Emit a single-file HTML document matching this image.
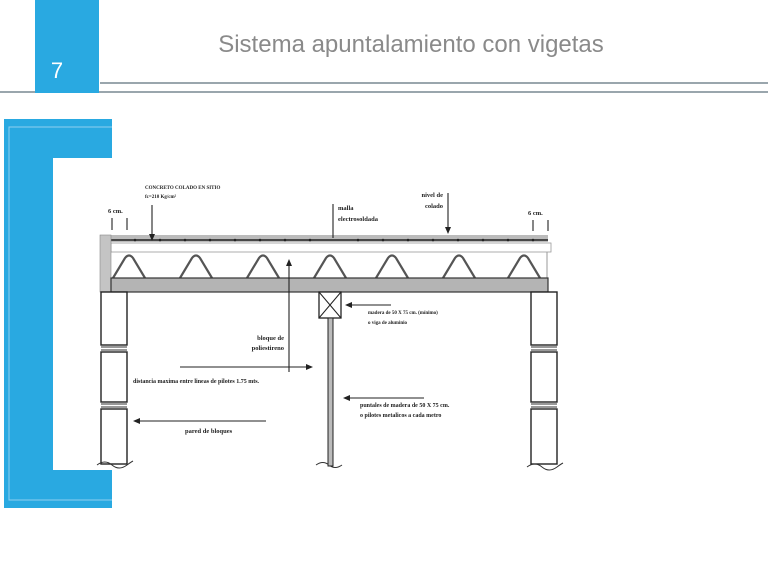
<!DOCTYPE html>
<html><head><meta charset="utf-8"><style>
html,body{margin:0;padding:0;background:#fff;}
body{width:768px;height:561px;position:relative;overflow:hidden;font-family:"Liberation Sans",sans-serif;}
</style></head><body>
<svg width="768" height="561" viewBox="0 0 768 561" xmlns="http://www.w3.org/2000/svg" style="position:absolute;left:0;top:0">
<!-- header -->
<rect x="100" y="82" width="668" height="2" fill="#9aa6ad"/>
<rect x="0" y="91" width="768" height="2" fill="#9aa6ad"/>
<rect x="35" y="0" width="64" height="93" fill="#29a9e1"/>
<text x="57" y="78" font-size="22" fill="#fff" font-family="Liberation Sans, sans-serif" text-anchor="middle">7</text>
<text x="411" y="52" font-size="24" fill="#8a8a8a" font-family="Liberation Sans, sans-serif" text-anchor="middle">Sistema apuntalamiento con vigetas</text>
<!-- bracket -->
<path d="M4 119 H112 V158 H53 V470 H112 V508 H4 Z" fill="#29a9e1"/>
<path d="M9 156 V127 H112 M9 127 V500 H112" stroke="#8fd0f0" stroke-width="1" fill="none"/>
<!-- slab -->
<rect x="100" y="235" width="448" height="7" fill="#bbb"/>
<line x1="100" y1="240" x2="548" y2="240" stroke="#222" stroke-width="1.5"/>
<g fill="#222">
<circle cx="110" cy="240" r="1.3"/><circle cx="135" cy="240" r="1.3"/><circle cx="160" cy="240" r="1.3"/><circle cx="185" cy="240" r="1.3"/><circle cx="210" cy="240" r="1.3"/><circle cx="235" cy="240" r="1.3"/><circle cx="260" cy="240" r="1.3"/><circle cx="285" cy="240" r="1.3"/><circle cx="310" cy="240" r="1.3"/><circle cx="358" cy="240" r="1.3"/><circle cx="383" cy="240" r="1.3"/><circle cx="408" cy="240" r="1.3"/><circle cx="433" cy="240" r="1.3"/><circle cx="458" cy="240" r="1.3"/><circle cx="483" cy="240" r="1.3"/><circle cx="508" cy="240" r="1.3"/><circle cx="533" cy="240" r="1.3"/>
</g>
<rect x="111" y="243" width="440" height="9" fill="#fff" stroke="#999" stroke-width="0.8"/>
<rect x="100" y="235" width="11" height="57" fill="#c4c4c4" stroke="#888" stroke-width="0.6"/>
<line x1="547" y1="252" x2="547" y2="278" stroke="#999" stroke-width="1"/>
<g fill="none" stroke="#555" stroke-width="2.2">
<path d="M113 278 L125 258 Q129 253 133 258 L145 278"/>
<path d="M180 278 L192 258 Q196 253 200 258 L212 278"/>
<path d="M247 278 L259 258 Q263 253 267 258 L279 278"/>
<path d="M314 278 L326 258 Q330 253 334 258 L346 278"/>
<path d="M376 278 L388 258 Q392 253 396 258 L408 278"/>
<path d="M443 278 L455 258 Q459 253 463 258 L475 278"/>
<path d="M508 278 L520 258 Q524 253 528 258 L540 278"/>
</g>
<rect x="111" y="278" width="437" height="14" fill="#b4b4b4" stroke="#333" stroke-width="1.2"/>
<!-- columns -->
<g fill="#fff" stroke="#222" stroke-width="1.4">
<rect x="101" y="292" width="26" height="53"/>
<rect x="101" y="352" width="26" height="50"/>
<rect x="101" y="409" width="26" height="55"/>
<rect x="531" y="292" width="26" height="53"/>
<rect x="531" y="352" width="26" height="50"/>
<rect x="531" y="409" width="26" height="55"/>
</g>
<g stroke="#333" stroke-width="1" fill="none">
<path d="M101 347 h26 M101 350 h26 M101 404 h26 M101 407 h26 M531 347 h26 M531 350 h26 M531 404 h26 M531 407 h26"/>
<path d="M97 465 q8 -6 15 0 t15 0 q4 -3 6 -4"/>
<path d="M527 467 q8 -6 15 0 t15 0 q4 -3 6 -4"/>
<path d="M316 465 q7 -5 13 0 t13 0"/>
</g>
<!-- post -->
<rect x="319" y="292" width="22" height="26" fill="#fff" stroke="#222" stroke-width="1.3"/>
<path d="M319 292 L341 318 M341 292 L319 318" stroke="#222" stroke-width="1"/>
<rect x="328" y="318" width="5" height="148" fill="#bbb" stroke="#222" stroke-width="1"/>
<!-- arrows -->
<g stroke="#222" stroke-width="1.1" fill="none">
<line x1="152" y1="205" x2="152" y2="238"/>
<line x1="333" y1="204" x2="333" y2="238"/>
<line x1="448" y1="193" x2="448" y2="230"/>
<line x1="112" y1="218" x2="112" y2="230"/><line x1="127" y1="218" x2="127" y2="230"/>
<line x1="533" y1="220" x2="533" y2="231"/><line x1="548" y1="220" x2="548" y2="231"/>
<line x1="391" y1="305" x2="352" y2="305"/>
<line x1="289" y1="372" x2="289" y2="266"/>
<line x1="180" y1="367" x2="306" y2="367"/>
<line x1="424" y1="398" x2="350" y2="398"/>
<line x1="266" y1="421" x2="140" y2="421"/>
</g>
<g fill="#222">
<path d="M149 234 L155 234 L152 241Z"/>
<path d="M445 227 L451 227 L448 234Z"/>
<path d="M352 302 L352 308 L345 305Z"/>
<path d="M286 266 L292 266 L289 259Z"/>
<path d="M306 364 L306 370 L313 367Z"/>
<path d="M350 395 L350 401 L343 398Z"/>
<path d="M140 418 L140 424 L133 421Z"/>
</g>
<!-- labels -->
<g font-family="Liberation Serif, serif" font-weight="bold" fill="#222" font-size="6.5">
<text x="145" y="189" font-size="5">CONCRETO COLADO EN SITIO</text>
<text x="145" y="198" font-size="5">fc=210 Kg/cm²</text>
<text x="108" y="213">6 cm.</text>
<text x="528" y="215">6 cm.</text>
<text x="338" y="210">malla</text>
<text x="338" y="221">electrosoldada</text>
<text x="443" y="197" text-anchor="end">nivel de</text>
<text x="443" y="208" text-anchor="end">colado</text>
<text x="368" y="314" font-size="5">madera de 50 X 75 cm. (mínimo)</text>
<text x="368" y="324" font-size="5">o viga de aluminio</text>
<text x="284" y="340" text-anchor="end">bloque de</text>
<text x="284" y="350" text-anchor="end">poliestireno</text>
<text x="133" y="383" font-size="6">distancia maxima entre lineas de pilotes 1.75 mts.</text>
<text x="360" y="407" font-size="6">puntales de madera de 50 X 75 cm.</text>
<text x="360" y="417" font-size="6">o pilotes metalicos a cada metro</text>
<text x="185" y="433">pared de bloques</text>
</g>
</svg>
</body></html>
